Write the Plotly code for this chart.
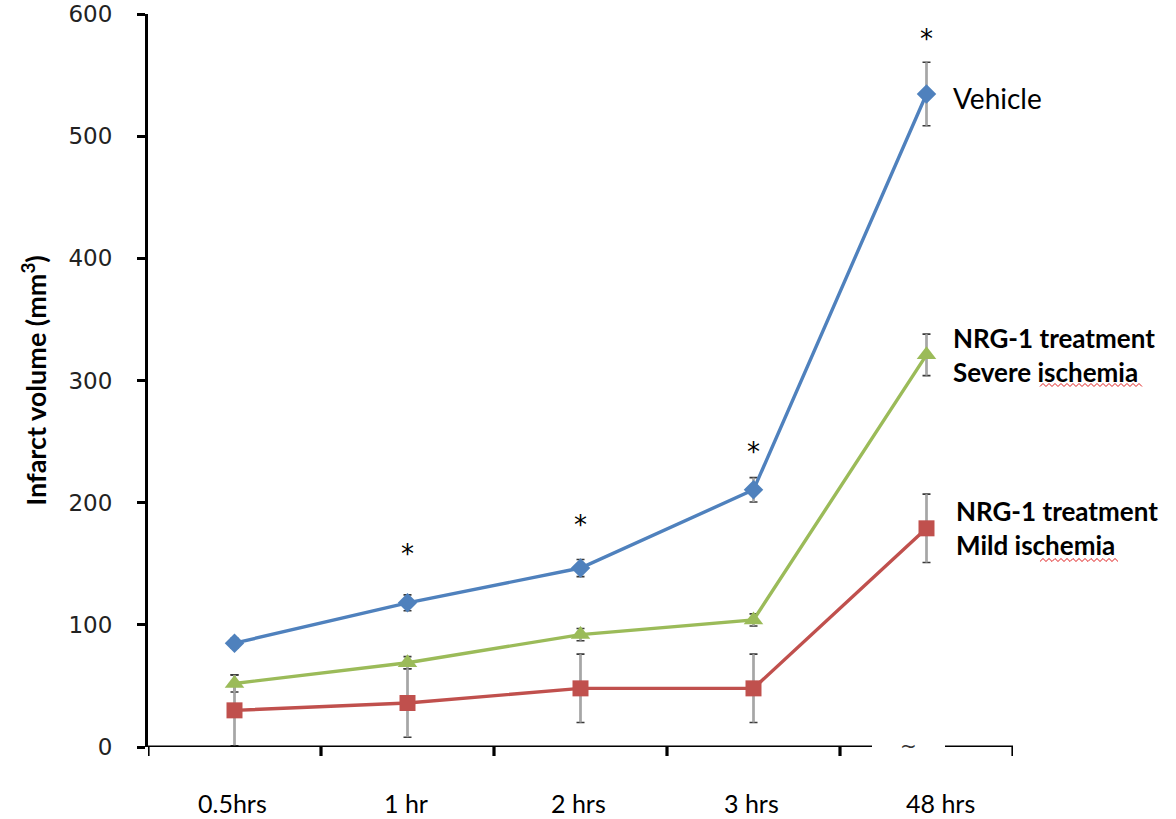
import plotly.graph_objects as go

# Time points after ischemia onset
time_labels = ["0.5hrs", "1 hr", "2 hrs", "3 hrs", "48 hrs"]

# Infarct volume (mm^3), mean and error
vehicle = [85, 118, 146.5, 210.5, 534.5]
vehicle_err = [4, 6.5, 7, 10, 26]

severe = [52, 69, 92, 104, 321]
severe_err = [7, 5, 5, 5, 17]

mild = [30, 36, 48, 48, 179]
mild_err = [29, 28, 28, 28, 28]

# significance markers (vehicle vs treatment)
significant = [False, True, True, True, True]

y_ticks = [0, 100, 200, 300, 400, 500, 600]

BLUE = "#4F81BD"
GREEN = "#9BBB59"
RED = "#C0504D"

W, H = 1176, 819
L, R, T, B = 148, 163, 14, 72
PW, PH = W - L - R, H - T - B
n = len(time_labels)
cat_px = PW / n


def px_to_x(px):
    return (px - L) / cat_px - 0.5


def px_to_paper(px, py):
    return (px - L) / PW, (H - B - py) / PH


xs = list(range(n))
fig = go.Figure()

series = [
    ("Vehicle", vehicle, vehicle_err, BLUE, "diamond", 15),
    ("Severe", severe, severe_err, GREEN, "triangle-up", 17),
    ("Mild", mild, mild_err, RED, "square", 16),
]

# dark caps underneath, grey stems on top
for name, vals, errs, col, sym, size in series:
    fig.add_trace(go.Scatter(
        x=xs, y=vals, mode="markers", marker=dict(size=1, opacity=0),
        error_y=dict(type="data", array=errs, visible=True,
                     color="#3a3a3a", thickness=1.6, width=4),
        showlegend=False, hoverinfo="skip"))
for name, vals, errs, col, sym, size in series:
    fig.add_trace(go.Scatter(
        x=xs, y=vals, mode="markers", marker=dict(size=1, opacity=0),
        error_y=dict(type="data", array=errs, visible=True,
                     color="#a6a6a6", thickness=2.2, width=0),
        showlegend=False, hoverinfo="skip"))
for name, vals, errs, col, sym, size in series:
    fig.add_trace(go.Scatter(
        x=xs, y=vals, mode="lines+markers", name=name,
        line=dict(color=col, width=3.4),
        marker=dict(symbol=sym, size=size, color=col),
        showlegend=False))

# x axis baseline with a break before the last category
brk0, brk1 = px_to_x(872), px_to_x(945)
for x0, x1 in [(-0.5, brk0), (brk1, n - 0.5)]:
    fig.add_shape(type="line", xref="x", yref="y", x0=x0, x1=x1, y0=0, y1=0,
                  line=dict(color="black", width=3.2), layer="above")
for i in range(n + 1):
    fig.add_shape(type="line", xref="x", yref="paper", x0=i - 0.5, x1=i - 0.5,
                  y0=0, y1=-9 / PH,
                  line=dict(color="black", width=3.2), layer="above")
fig.add_annotation(x=(brk0 + brk1) / 2, y=0, text="~", showarrow=False,
                   font=dict(family="DejaVu Sans", size=20, color="#333"),
                   yanchor="middle", yshift=1)

# category labels
for i, lab in enumerate(time_labels):
    fig.add_annotation(x=i, y=0, text=lab, showarrow=False, yanchor="middle",
                       yshift=-56, xshift=(14 if i == n - 1 else -2),
                       font=dict(family="Lato", size=25, color="black"))

# significance asterisks
star_lift = [0, 24, 17, 9, 6]
for i, sig in enumerate(significant):
    if sig:
        fig.add_annotation(x=i, y=vehicle[i] + vehicle_err[i], text="*",
                           showarrow=False, yanchor="bottom", yshift=star_lift[i],
                           font=dict(family="DejaVu Sans", size=26, color="black"))

# series labels
last = n - 1
fig.add_annotation(x=last, y=vehicle[last], text="Vehicle", showarrow=False,
                   xanchor="left", yanchor="middle", xshift=24, yshift=-4,
                   font=dict(family="Lato", size=28, color="black"))
fig.add_annotation(x=last, y=severe[last],
                   text="<b>NRG-1 treatment</b><br><b>Severe ischemia</b>",
                   showarrow=False, xanchor="left", yanchor="middle", align="left",
                   xshift=24, font=dict(family="Lato", size=26, color="black"))
fig.add_annotation(x=last, y=mild[last],
                   text="<b>NRG-1 treatment</b><br><b>Mild ischemia</b>",
                   showarrow=False, xanchor="left", yanchor="middle", align="left",
                   xshift=27, font=dict(family="Lato", size=26, color="black"))


# spell-check squiggles under "ischemia"
def squiggle(px0, px1, py):
    pts = []
    k = 0
    p = px0
    while p <= px1:
        xp, yp = px_to_paper(p, py + (1.5 if k % 2 == 0 else -1.5))
        pts.append(f"{xp:.5f},{yp:.5f}")
        p += 3
        k += 1
    return "M " + " L ".join(pts)


fig.add_shape(type="path", xref="paper", yref="paper", path=squiggle(1040, 1143, 385),
              line=dict(color="#e02020", width=1))
fig.add_shape(type="path", xref="paper", yref="paper", path=squiggle(1040, 1120, 560),
              line=dict(color="#e02020", width=1))

fig.update_xaxes(range=[-0.5, n - 0.5], showticklabels=False, ticks="",
                 showgrid=False, zeroline=False, showline=False, automargin=False)
fig.update_yaxes(range=[0, 600], tickvals=y_ticks, ticks="outside", ticklen=8,
                 tickwidth=3, tickcolor="black", showline=True, linewidth=3.2,
                 linecolor="black", showgrid=False, zeroline=False, automargin=False,
                 ticklabelstandoff=20,
                 tickfont=dict(family="DejaVu Sans", size=23, color="#222"),
                 title=dict(text="<b>Infarct volume (mm<sup>3</sup>)</b>",
                            font=dict(family="Lato", size=27, color="black"),
                            standoff=14))

fig.update_layout(width=W, height=H, margin=dict(l=L, r=R, t=T, b=B),
                  plot_bgcolor="white", paper_bgcolor="white", showlegend=False)

fig.write_html("out.html")
